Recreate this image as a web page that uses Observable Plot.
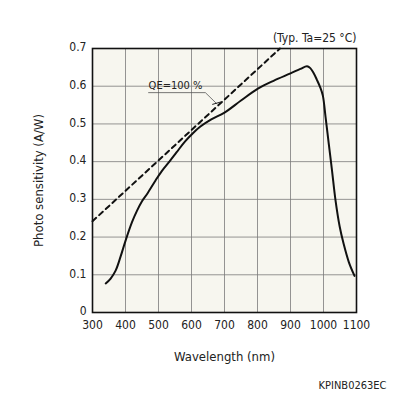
<!DOCTYPE html>
<html>
<head>
<meta charset="utf-8">
<script src="https://cdn.jsdelivr.net/npm/d3@7"></script>
<script src="https://cdn.jsdelivr.net/npm/@observablehq/plot@0.6"></script>
<style>
html,body{margin:0;padding:0;background:#fff;}
#chart{width:396px;height:396px;}
</style>
</head>
<body>
<div id="chart"></div>
<script>
// Measured spectral response
const wavelength = [340,355,370,385,400,420,435,450,466,491,510,533,555,580,605,627,660,700,750,800,850,900,930,950,960,970,980,990,998,1006,1016,1026,1036,1049,1061,1077,1094];
const sensitivity = [0.077,0.09,0.111,0.148,0.19,0.24,0.27,0.295,0.315,0.35,0.375,0.40,0.425,0.453,0.476,0.493,0.512,0.53,0.562,0.593,0.615,0.634,0.646,0.653,0.648,0.635,0.617,0.597,0.575,0.52,0.447,0.375,0.30,0.228,0.182,0.133,0.097];
// QE = 100 % reference line
const qeWavelength = [300, 868];
const qeSensitivity = [0.242, 0.7];
// ticks
const xTicks = [300,400,500,600,700,800,900,1000,1100];
const yTicks = [0,0.1,0.2,0.3,0.4,0.5,0.6,0.7];
const yTickLabels = ["0","0.1","0.2","0.3","0.4","0.5","0.6","0.7"];
// texts
const titleNote = "(Typ. Ta=25 °C)";
const qeLabel = "QE=100 %";
const xLabel = "Wavelength (nm)";
const yLabel = "Photo sensitivity (A/W)";
const code = "KPINB0263EC";

const curve = wavelength.map((w,i)=>({w, s: sensitivity[i]}));
const qe = qeWavelength.map((w,i)=>({w, s: qeSensitivity[i]}));
const underline = [{w:470,s:0.583},{w:642,s:0.583},{w:676,s:0.554}];
const leaderTick = [{w:664,s:0.552},{w:688,s:0.558}];

const font = "'DejaVu Sans Condensed', 'Noto Sans', sans-serif";
const chart = Plot.plot({
  width: 396,
  height: 396,
  marginTop: 48,
  marginLeft: 92,
  marginRight: 40,
  marginBottom: 84,
  style: {fontFamily: font, fontSize: "12px", color: "#222", background: "#fff", overflow: "visible"},
  x: {domain: [300,1100], label: null},
  y: {domain: [0,0.7], label: null},
  marks: [
    Plot.frame({fill: "#f7f6ef", stroke: null}),
    Plot.gridX(xTicks, {stroke: "#7a7a7a", strokeOpacity: 1, strokeWidth: 0.8}),
    Plot.gridY(yTicks, {stroke: "#7a7a7a", strokeOpacity: 1, strokeWidth: 0.8}),
    Plot.line(qe, {x: "w", y: "s", stroke: "#111", strokeWidth: 2, strokeDasharray: "5,4"}),
    Plot.line(curve, {x: "w", y: "s", stroke: "#111", strokeWidth: 2, curve: "catmull-rom"}),
    Plot.line(underline, {x: "w", y: "s", stroke: "#555", strokeWidth: 0.8}),
    Plot.line(leaderTick, {x: "w", y: "s", stroke: "#222", strokeWidth: 1}),
    Plot.text([qeLabel], {x: 470, y: 0.583, text: d=>d, textAnchor: "start", dy: -7, fontSize: 11, fill: "#222"}),
    Plot.frame({stroke: "#111", strokeWidth: 1.6}),
    Plot.axisX(xTicks, {tickSize: 0, tickPadding: 8, fontSize: 12, tickFormat: d => String(d)}),
    Plot.axisY(yTicks, {tickSize: 0, tickPadding: 6, dy: -1, fontSize: 12, tickFormat: (d,i)=>yTickLabels[i]}),
    Plot.text([titleNote], {frameAnchor: "top-right", lineAnchor: "middle", text: d=>d, dy: -10, dx: 0, textAnchor: "end", fontSize: 12, fill: "#222"}),
    Plot.text([xLabel], {frameAnchor: "bottom", lineAnchor: "middle", text: d=>d, dy: 44, fontSize: 13, fill: "#222"}),
    Plot.text([yLabel], {frameAnchor: "left", lineAnchor: "middle", textAnchor: "middle", text: d=>d, dx: -54, rotate: -90, fontSize: 13, fill: "#222"}),
    Plot.text([code], {frameAnchor: "bottom-right", lineAnchor: "middle", text: d=>d, dy: 73, dx: 30, textAnchor: "end", fontSize: 11, fill: "#222"})
  ]
});
document.getElementById("chart").appendChild(chart);
</script>
</body>
</html>
